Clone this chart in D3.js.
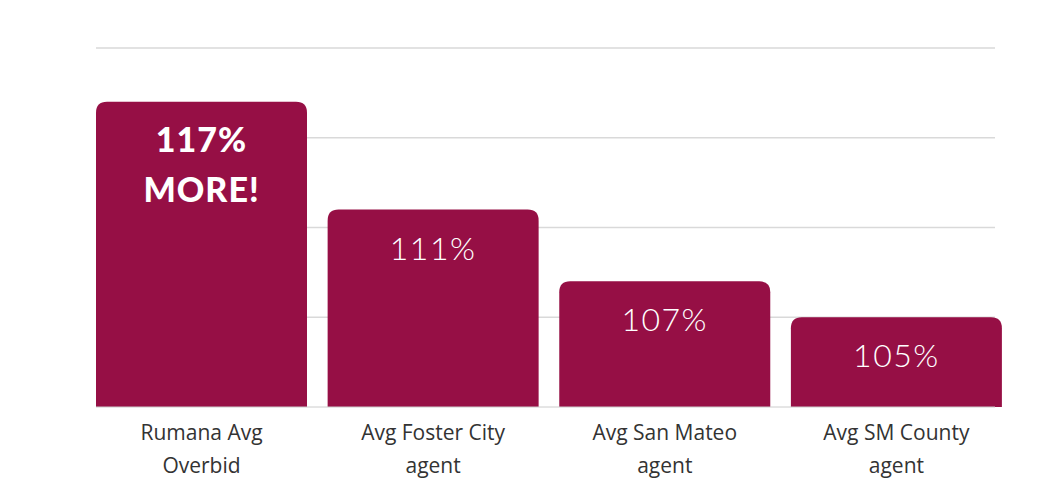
<!DOCTYPE html>
<html><head><meta charset="utf-8">
<script src="https://cdn.jsdelivr.net/npm/d3@7"></script>
<style>body{margin:0;background:#fff}</style>
</head><body><svg id="c" width="1038" height="501"></svg>
<script>
var categories = [['Rumana Avg', 'Overbid'], ['Avg Foster City', 'agent'], ['Avg San Mateo', 'agent'], ['Avg SM County', 'agent']];
var values = [117, 111, 107, 105];
var barLabels = [['117%', 'MORE!'], ['111%'], ['107%'], ['105%']];
var gridTicks = [105, 110, 115, 120];

var svg = d3.select('#c');
var x = d3.scaleBand().domain(d3.range(values.length)).range([96, 1004]).paddingInner(0.08).paddingOuter(0);
var y = d3.scaleLinear().domain([100, 120]).range([407, 48]);

svg.selectAll('line.g').data(gridTicks).enter().append('line')
  .attr('x1', 96).attr('x2', 995).attr('y1', function (d) { return y(d); }).attr('y2', function (d) { return y(d); })
  .attr('stroke', '#d9d9d9').attr('stroke-width', 1.5);

var r = 11, bw = 211;
svg.selectAll('path.bar').data(values).enter().append('path')
  .attr('fill', '#960f45')
  .attr('d', function (d, i) {
    var x0 = x(i), x1 = x0 + bw, t = y(d), b = y(100);
    return 'M' + x0 + ',' + b + 'V' + (t + r) + 'Q' + x0 + ',' + t + ' ' + (x0 + r) + ',' + t +
      'H' + (x1 - r) + 'Q' + x1 + ',' + t + ' ' + x1 + ',' + (t + r) + 'V' + b + 'Z';
  });

svg.append('line').attr('x1', 96).attr('x2', 995).attr('y1', y(100)).attr('y2', y(100)).attr('stroke', '#ccc');

values.forEach(function (d, i) {
  var cx = x(i) + bw / 2;
  var bold = i === 0;
  barLabels[i].forEach(function (t, j) {
    svg.append('text').attr('x', cx).attr('y', y(d) + 50 + j * 50)
      .attr('text-anchor', 'middle').attr('fill', '#fff')
      .attr('font-family', bold ? 'Lato' : 'Lato').attr('font-weight', bold ? 900 : 300)
      .attr('font-size', bold ? 34 : 32).attr('letter-spacing', bold ? 1 : 1.5).text(t);
  });
  categories[i].forEach(function (t, j) {
    svg.append('text').attr('x', cx).attr('y', 440 + j * 33)
      .attr('text-anchor', 'middle').attr('fill', '#333')
      .attr('font-family', 'Open Sans').attr('font-size', 21).text(t);
  });
});
</script></body></html>
